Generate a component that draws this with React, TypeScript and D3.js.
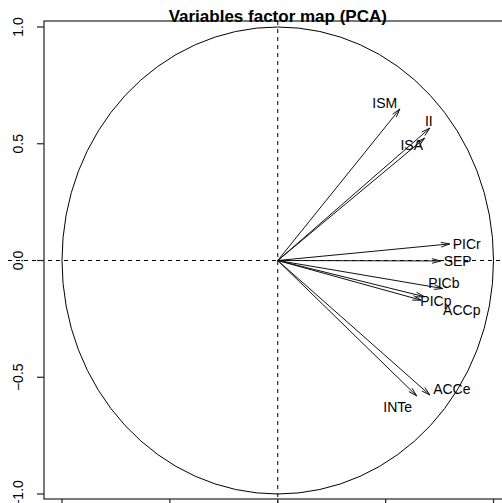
import React, { useEffect, useRef } from 'react';
import * as d3 from 'd3';

// PCA variable coordinates (Dim 1, Dim 2)
const variables = ['ISM', 'II', 'ISA', 'PICr', 'SEP', 'PICb', 'PICp', 'ACCp', 'INTe', 'ACCe'];
const dim1 = [0.566, 0.705, 0.681, 0.797, 0.755, 0.765, 0.665, 0.68, 0.644, 0.705];
const dim2 = [0.649, 0.567, 0.524, 0.071, -0.002, -0.12, -0.17, -0.155, -0.58, -0.576];
// label anchor points (data units), as placed by autoLab
const labelX = [0.496, 0.7, 0.621, 0.876, 0.834, 0.77, 0.733, 0.853, 0.556, 0.807];
const labelY = [0.675, 0.597, 0.495, 0.071, -0.002, -0.096, -0.173, -0.212, -0.627, -0.55];
const ticks = [-1, -0.5, 0, 0.5, 1];
const title = 'Variables factor map (PCA)';

const App: React.FC = () => {
  const svgRef = useRef<SVGSVGElement>(null);

  useEffect(() => {
    if (!svgRef.current) return;
    const svg = d3.select(svgRef.current);
    svg.selectAll('*').remove();

    const width = 502;
    const height = 503;
    const box = { left: 44, top: 21, bottom: 499, right: 512 };

    const x = d3.scaleLinear().domain([-1, 1]).range([62, 493.5]);
    const y = d3.scaleLinear().domain([-1, 1]).range([494, 27]);
    const font = 'Liberation Sans, Arial, Helvetica, sans-serif';

    svg.append('rect').attr('width', width).attr('height', height).attr('fill', '#fff');

    // dashed axes through the origin
    svg.append('line')
      .attr('x1', 8).attr('x2', width)
      .attr('y1', y(0)).attr('y2', y(0))
      .attr('stroke', '#000').attr('stroke-width', 1)
      .attr('stroke-dasharray', '4 4');
    svg.append('line')
      .attr('x1', x(0)).attr('x2', x(0))
      .attr('y1', box.top).attr('y2', height)
      .attr('stroke', '#000').attr('stroke-width', 1)
      .attr('stroke-dasharray', '4 4');

    // correlation circle
    svg.append('ellipse')
      .attr('cx', x(0)).attr('cy', y(0))
      .attr('rx', x(1) - x(0)).attr('ry', y(0) - y(1))
      .attr('fill', 'none').attr('stroke', '#000').attr('stroke-width', 1);

    // frame
    svg.append('rect')
      .attr('x', box.left).attr('y', box.top)
      .attr('width', box.right - box.left).attr('height', box.bottom - box.top)
      .attr('fill', 'none').attr('stroke', '#222').attr('stroke-width', 1.2);

    // left axis
    const gy = svg.append('g');
    ticks.forEach(t => {
      gy.append('line')
        .attr('x1', box.left - 7).attr('x2', box.left)
        .attr('y1', y(t)).attr('y2', y(t))
        .attr('stroke', '#222').attr('stroke-width', 1.2);
      gy.append('text')
        .attr('transform', `translate(23,${y(t)}) rotate(-90)`)
        .attr('text-anchor', 'middle')
        .attr('font-family', font)
        .attr('font-size', 14)
        .attr('fill', '#000')
        .text(d3.format('.1f')(t));
    });

    // bottom axis ticks (labels fall outside the picture)
    ticks.forEach(t => {
      svg.append('line')
        .attr('x1', x(t)).attr('x2', x(t))
        .attr('y1', box.bottom).attr('y2', box.bottom + 7)
        .attr('stroke', '#222').attr('stroke-width', 1.2);
    });

    // arrows
    const headLen = 9;
    const headAng = (15 * Math.PI) / 180;
    const g = svg.append('g');
    variables.forEach((v, i) => {
      const x0 = x(0), y0 = y(0);
      const x1 = x(dim1[i]), y1 = y(dim2[i]);
      const a = Math.atan2(y1 - y0, x1 - x0);
      g.append('line')
        .attr('x1', x0).attr('y1', y0)
        .attr('x2', x1).attr('y2', y1)
        .attr('stroke', '#111').attr('stroke-width', 1);
      const p = d3.path();
      p.moveTo(x1 - headLen * Math.cos(a - headAng), y1 - headLen * Math.sin(a - headAng));
      p.lineTo(x1, y1);
      p.lineTo(x1 - headLen * Math.cos(a + headAng), y1 - headLen * Math.sin(a + headAng));
      g.append('path')
        .attr('d', p.toString())
        .attr('fill', 'none')
        .attr('stroke', '#111').attr('stroke-width', 1);
    });

    // labels
    variables.forEach((v, i) => {
      svg.append('text')
        .attr('x', x(labelX[i]))
        .attr('y', y(labelY[i]))
        .attr('dy', '0.36em')
        .attr('text-anchor', 'middle')
        .attr('font-family', font)
        .attr('font-size', 14)
        .attr('fill', '#000')
        .text(v);
    });

    // title
    svg.append('text')
      .attr('x', x(0))
      .attr('y', 21.5)
      .attr('text-anchor', 'middle')
      .attr('font-family', font)
      .attr('font-size', 17)
      .attr('font-weight', 'bold')
      .attr('fill', '#000')
      .text(title);
  }, []);

  return (
    <div style={{ position: 'fixed', left: 0, top: 0 }}>
      <svg ref={svgRef} width={502} height={503} style={{ display: 'block' }} />
    </div>
  );
};

export default App;
